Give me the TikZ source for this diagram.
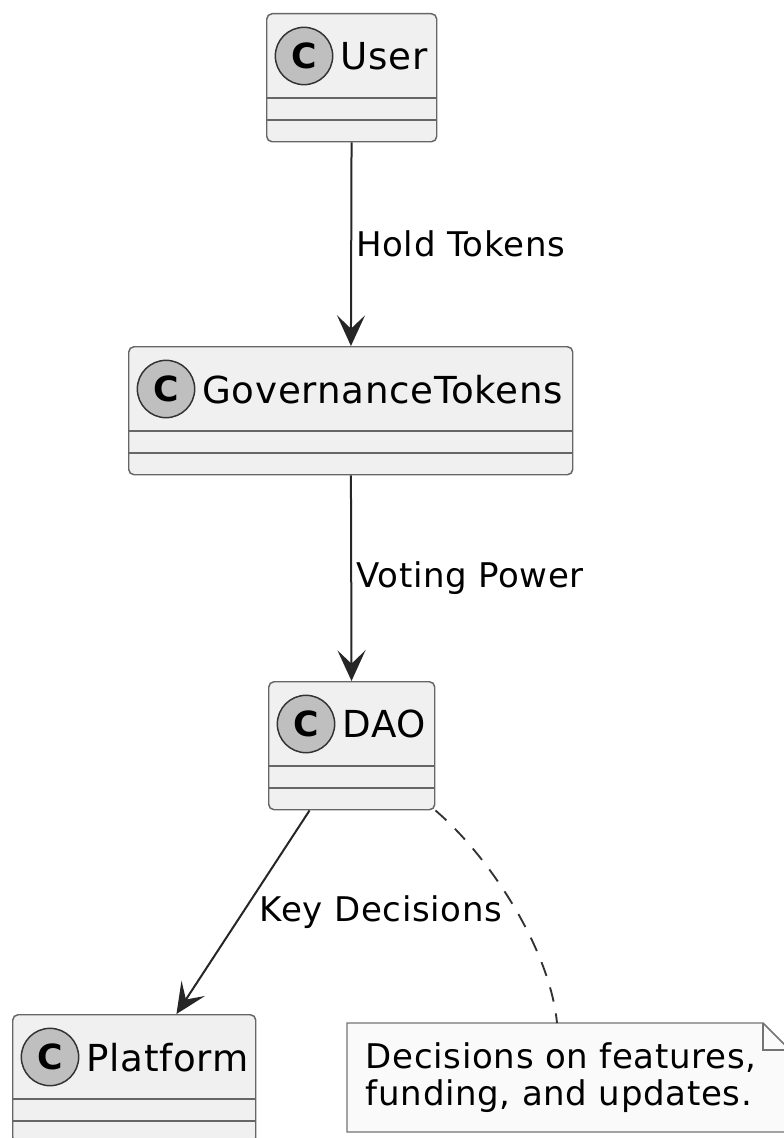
\documentclass[tikz,border=0pt]{standalone}
\usepackage{fontspec}
\setmainfont{DejaVu Sans}[LetterSpace=2]
\usetikzlibrary{arrows.meta, positioning, calc}
\tikzset{
    classbox/.style={rectangle, draw=black!60, line width=1.1pt, rounded corners=4pt, fill=black!6, anchor=north west, minimum height=96pt, inner sep=0pt},
    sep/.style={draw=black!60, line width=1.1pt},
    badge/.style={circle, draw=black!80, line width=1.1pt, fill=black!25, minimum size=43pt, inner sep=0pt, font=\fontsize{26}{26}\selectfont\bfseries},
    cname/.style={anchor=west, inner sep=0pt, text depth=0pt, font=\fontsize{27.9}{30}\selectfont},
    arrow/.style={draw=black!85, line width=1.5pt, -{Stealth[length=23pt, width=21pt, inset=10pt]}},
    lbl/.style={anchor=west, inner sep=0pt, xshift=3pt, font=\fontsize{25.5}{28}\selectfont},
    note/.style={anchor=north west, align=left, text width=304pt, inner xsep=14pt, minimum height=82pt, font=\fontsize{25.5}{27.75}\selectfont},
    noteline/.style={draw=black!55, line width=1.1pt, fill=black!2},
    notelink/.style={draw=black!80, line width=1.4pt, dash pattern=on 11pt off 9pt}
}

\begin{document}
\begin{tikzpicture}[x=0.75pt, y=-0.75pt]
    \clip (0,0) rectangle (784,1138);

    % classes
    \node[classbox, minimum width=127.5pt] (user) at (266,13) {};
    \node[classbox, minimum width=333pt] (gov) at (128,346) {};
    \node[classbox, minimum width=124.5pt] (dao) at (268,681) {};
    \node[classbox, minimum width=182.25pt] (platform) at (12,1014) {};

    \foreach \c/\t in {user/User, gov/GovernanceTokens, dao/DAO, platform/Platform} {
        \draw[sep] ($(\c.north west)+(0,85)$) -- ($(\c.north east)+(0,85)$);
        \draw[sep] ($(\c.north west)+(0,107)$) -- ($(\c.north east)+(0,107)$);
        \node[badge] (\c-c) at ($(\c.north west)+(38,43)$) {C};
        \node[cname, right=5pt of \c-c] (\c-name) {\t};
    }

    % relations
    \draw[arrow] (user) -- node[lbl] {Hold Tokens} (gov);
    \draw[arrow] (gov) -- node[lbl] {Voting Power} (dao);
    \draw[arrow] (dao) -- node[lbl, xshift=9pt] {Key Decisions} (platform);

    % note
    \coordinate (notenw) at (347,1023);
    \draw[noteline] (notenw) -- +(416,0) -- +(443,27) -- +(443,109) -- +(0,109) -- cycle;
    \draw[noteline, fill=none] ($(notenw)+(416,0)$) |- ($(notenw)+(443,27)$);
    \node[note] (decnote) at (notenw) {Decisions on features,\\funding, and updates.};

    \coordinate (notetop) at ($(notenw)+(210,0)$);
    \draw[notelink] (dao.south east) .. controls +(55,47) and +(-7,-73) .. (notetop);
\end{tikzpicture}
\end{document}
